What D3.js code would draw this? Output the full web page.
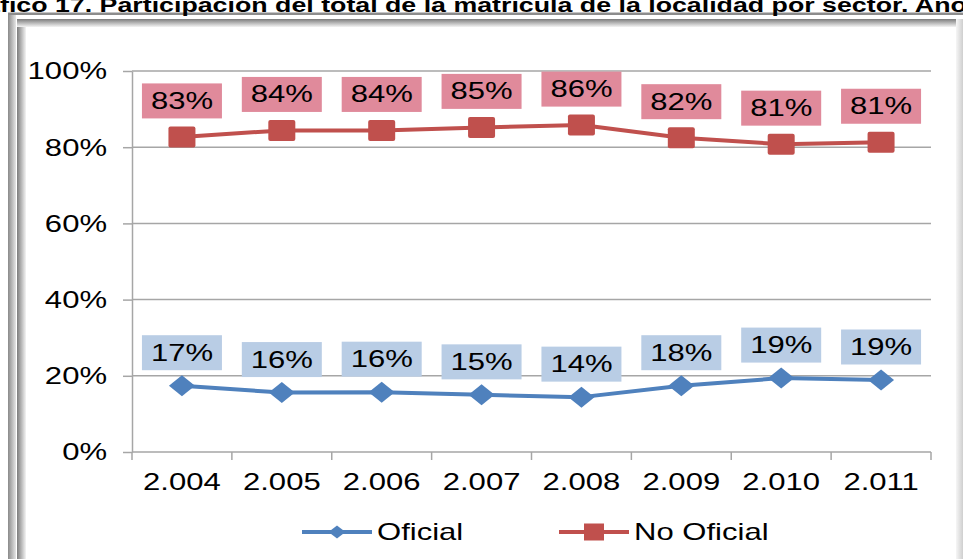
<!DOCTYPE html>
<html>
<head>
<meta charset="utf-8">
<script src="https://cdn.jsdelivr.net/npm/d3@7"></script>
<style>
  body { margin: 0; background: #fff; }
  svg { display: block; font-family: "Liberation Sans", Arial, sans-serif; }
</style>
</head>
<body>
<svg id="chart" width="963" height="559"></svg>
<script>
// data
const years = ["2.004", "2.005", "2.006", "2.007", "2.008", "2.009", "2.010", "2.011"];
const oficial = [17.4, 15.6, 15.7, 15.0, 14.4, 17.4, 19.4, 18.9];
const noOficial = [82.7, 84.4, 84.4, 85.2, 85.8, 82.5, 80.8, 81.3];
const oficialLabels = ["17%", "16%", "16%", "15%", "14%", "18%", "19%", "19%"];
const noOficialLabels = ["83%", "84%", "84%", "85%", "86%", "82%", "81%", "81%"];
const yTicks = [0, 20, 40, 60, 80, 100];
const seriesNames = ["Oficial", "No Oficial"];
const titleText = "Gráfico 17. Participación del total de la matrícula de la localidad por sector. Años 2004 - 2011";

const W = 963, H = 559;
const margin = { top: 71, right: 32, bottom: 107, left: 132 };
const w = W - margin.left - margin.right;
const h = H - margin.top - margin.bottom;
const stretch = 1.35; // the original picture is wider than tall, text is squeezed out
const fontSize = 23;

const blue = "#4F81BD", red = "#C0504D";
const blueBox = "#B9CDE5", redBox = "#E08A9B";

const svg = d3.select("#chart");
const defs = svg.append("defs");

// frame gradients
function grad(id, x2, y2, c1, c2) {
  const g = defs.append("linearGradient").attr("id", id)
    .attr("x1", 0).attr("y1", 0).attr("x2", x2).attr("y2", y2);
  g.append("stop").attr("offset", "0%").attr("stop-color", c1);
  g.append("stop").attr("offset", "100%").attr("stop-color", c2);
}
grad("gl1", 1, 0, "#8a8a8a", "#e6e6e6");
grad("gl2", 1, 0, "#7c7c7c", "#f4f4f4");
grad("gt2", 0, 1, "#7c7c7c", "#f4f4f4");
grad("gr", 1, 0, "#f6f6f6", "#cfcfcf");

//********** frame **********//
svg.append("rect").attr("x", 8).attr("y", 15).attr("width", 8).attr("height", H - 15).attr("fill", "url(#gl1)");
svg.append("rect").attr("x", 8).attr("y", 12.5).attr("width", W - 8).attr("height", 2.5).attr("fill", "#8c8c8c");
svg.append("rect").attr("x", 17).attr("y", 19).attr("width", 9).attr("height", H - 19).attr("fill", "url(#gl2)");
svg.append("rect").attr("x", 17).attr("y", 19).attr("width", W - 17).attr("height", 8).attr("fill", "url(#gt2)");
svg.append("rect").attr("x", 956).attr("y", 19).attr("width", 7).attr("height", H - 19).attr("fill", "url(#gr)");

//********** title (cut at top and sides like the source) **********//
const title = svg.append("text")
  .attr("font-weight", "bold")
  .attr("font-size", 21)
  .attr("fill", "#000")
  .text(titleText);
const prefixW = title.node().getSubStringLength(0, 3);
const upToA = title.node().getSubStringLength(0, titleText.indexOf("Año"));
const ts = 915 / (upToA - prefixW);
title.attr("x", -prefixW).attr("transform", `translate(0,11.5) scale(${ts},1)`);

const g = svg.append("g").attr("transform", `translate(${margin.left},${margin.top})`);

// scales
const xScale = d3.scaleBand().domain(years).range([0, w]);
const yScale = d3.scaleLinear().domain([0, 100]).range([h, 0]);
const cx = d => xScale(d) + xScale.bandwidth() / 2;

// gridlines
g.append("g").selectAll("line").data(yTicks.filter(d => d > 0)).enter()
  .append("line")
  .attr("x1", 0).attr("x2", w)
  .attr("y1", d => yScale(d)).attr("y2", d => yScale(d))
  .attr("stroke", "#a6a6a6").attr("stroke-width", 1.5);

// y axis
const yAxis = g.append("g")
  .call(d3.axisLeft(yScale).tickValues(yTicks).tickSize(9).tickSizeOuter(0).tickFormat(d => d + "%"));
yAxis.select(".domain").attr("stroke", "#a6a6a6").attr("stroke-width", 1.5);
yAxis.selectAll(".tick line").attr("stroke", "#a6a6a6").attr("stroke-width", 1.5);
yAxis.selectAll(".tick text")
  .attr("x", null).attr("dy", null)
  .attr("font-size", fontSize).attr("fill", "#000")
  .attr("font-family", "Liberation Sans, Arial, sans-serif")
  .attr("dominant-baseline", "central")
  .attr("transform", `translate(-25,0) scale(${stretch},1)`);

// x axis, ticks between categories
const xAxis = g.append("g").attr("transform", `translate(0,${h})`);
xAxis.append("line").attr("x1", 0).attr("x2", w).attr("stroke", "#a6a6a6").attr("stroke-width", 1.5);
xAxis.selectAll(".xt").data(years.concat(["end"])).enter()
  .append("line").attr("class", "xt")
  .attr("x1", (d, i) => i < years.length ? xScale(d) : w)
  .attr("x2", (d, i) => i < years.length ? xScale(d) : w)
  .attr("y1", 0).attr("y2", 8)
  .attr("stroke", "#a6a6a6").attr("stroke-width", 1.5);
xAxis.selectAll(".xl").data(years).enter()
  .append("text").attr("class", "xl")
  .attr("text-anchor", "middle")
  .attr("font-size", fontSize)
  .attr("fill", "#000")
  .attr("transform", d => `translate(${cx(d)},38) scale(${stretch},1)`)
  .text(d => d);

// lines
function drawSeries(values, color) {
  const line = d3.line().x((d, i) => cx(years[i])).y(d => yScale(d));
  g.append("path").datum(values)
    .attr("d", line)
    .attr("fill", "none")
    .attr("stroke", color)
    .attr("stroke-width", 4)
    .attr("stroke-linejoin", "round");
}
drawSeries(oficial, blue);
drawSeries(noOficial, red);

// markers
const diamond = (x, y, rw, rh) => `M${x - rw},${y}L${x},${y - rh}L${x + rw},${y}L${x},${y + rh}Z`;
g.append("g").selectAll("path").data(oficial).enter()
  .append("path")
  .attr("d", (d, i) => diamond(cx(years[i]), yScale(d), 13, 10.5))
  .attr("fill", blue);
g.append("g").selectAll("rect").data(noOficial).enter()
  .append("rect")
  .attr("x", (d, i) => cx(years[i]) - 13.5)
  .attr("y", d => yScale(d) - 10.5)
  .attr("width", 27).attr("height", 21).attr("rx", 2)
  .attr("fill", red);

// data labels with filled boxes
function drawLabels(values, labels, fill, dy) {
  const lab = g.append("g").selectAll("g").data(values).enter()
    .append("g")
    .attr("transform", (d, i) => `translate(${cx(years[i])},${yScale(d) + dy})`);
  lab.append("rect")
    .attr("x", -40).attr("y", -17.5)
    .attr("width", 80).attr("height", 35)
    .attr("fill", fill);
  lab.append("text")
    .attr("text-anchor", "middle")
    .attr("dominant-baseline", "central")
    .attr("font-size", fontSize)
    .attr("fill", "#000")
    .attr("transform", `scale(${stretch},1)`)
    .text((d, i) => labels[i]);
}
drawLabels(noOficial, noOficialLabels, redBox, -36);
drawLabels(oficial, oficialLabels, blueBox, -33);

//********** legend **********//
const legend = svg.append("g").attr("transform", "translate(0,532)");
const legItems = legend.selectAll("g").data(seriesNames).enter()
  .append("g")
  .attr("transform", (d, i) => `translate(${i === 0 ? 302 : 559},0)`);
legItems.append("line")
  .attr("x1", 0).attr("x2", 70).attr("y1", 0).attr("y2", 0)
  .attr("stroke", (d, i) => i === 0 ? blue : red)
  .attr("stroke-width", 4);
legItems.filter((d, i) => i === 0).append("path")
  .attr("d", diamond(35, 0, 8.5, 6.5)).attr("fill", blue);
legItems.filter((d, i) => i === 1).append("rect")
  .attr("x", 25).attr("y", -8.5).attr("width", 20).attr("height", 17).attr("fill", red);
legItems.append("text")
  .attr("dominant-baseline", "central")
  .attr("font-size", fontSize)
  .attr("fill", "#000")
  .attr("transform", `translate(75,0) scale(${stretch},1)`)
  .text(d => d);
</script>
</body>
</html>
